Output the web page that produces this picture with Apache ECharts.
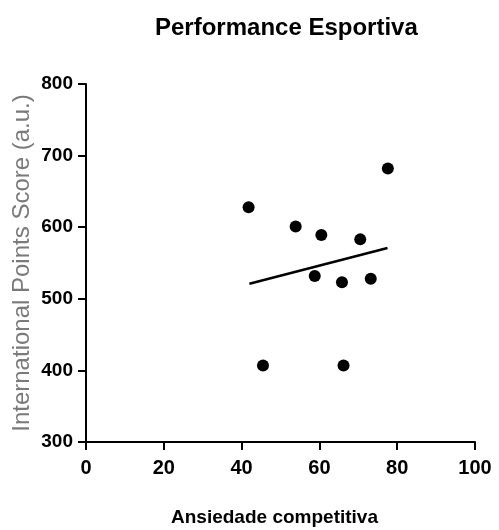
<!DOCTYPE html>
<html>
<head>
<meta charset="utf-8">
<script src="https://cdn.jsdelivr.net/npm/echarts@6/dist/echarts.min.js"></script>
<style>
  html, body { margin: 0; padding: 0; background: #fff; }
  #chart { width: 499px; height: 530px; }
</style>
</head>
<body>
<div id="chart"></div>
<script>
// dados
const anxiety = [41.8, 45.5, 53.9, 58.8, 60.5, 65.8, 66.2, 70.5, 73.2, 77.6];
const points = [628, 407, 601, 532, 589, 523, 407, 583, 528, 682];
const fitX = [42, 77.5];
const fitY = [521, 571];
const xTicks = [0, 20, 40, 60, 80, 100];
const yTicks = [300, 400, 500, 600, 700, 800];

const sans = '"Liberation Sans", Arial, sans-serif';

const chart = echarts.init(document.getElementById('chart'));

const option = {
  animation: false,
  title: {
    text: 'Performance Esportiva',
    left: 150,
    top: 11,
    textStyle: { fontFamily: sans, fontWeight: 'bold', fontSize: 24, color: '#000' }
  },
  grid: { left: 86, right: 24, top: 84, bottom: 88, outerBoundsMode: 'none', containLabel: false },
  xAxis: {
    type: 'value',
    min: xTicks[0],
    max: xTicks[xTicks.length - 1],
    interval: 20,
    name: 'Ansiedade competitiva',
    nameLocation: 'middle',
    nameGap: 66,
    nameMoveOverlap: false,
    nameTextStyle: { fontFamily: sans, fontWeight: 'bold', fontSize: 19, color: '#000', padding: [0, 12, 0, 0] },
    axisLine: { lineStyle: { color: '#000', width: 2 } },
    axisTick: { show: true, length: 8, lineStyle: { color: '#000', width: 2 } },
    axisLabel: { fontFamily: sans, fontWeight: 'bold', fontSize: 20, color: '#000', margin: 16 },
    splitLine: { show: false }
  },
  yAxis: {
    type: 'value',
    min: yTicks[0],
    max: yTicks[yTicks.length - 1],
    interval: 100,
    name: 'International Points Score (a.u.)',
    nameLocation: 'middle',
    nameGap: 52,
    nameMoveOverlap: false,
    nameTextStyle: { fontFamily: sans, fontSize: 24, color: '#7a7a7a' },
    axisLine: { show: true, lineStyle: { color: '#000', width: 2 } },
    axisTick: { show: true, length: 8, lineStyle: { color: '#000', width: 2 } },
    axisLabel: { fontFamily: sans, fontWeight: 'bold', fontSize: 19, color: '#000', margin: 13 },
    splitLine: { show: false }
  },
  series: [
    {
      type: 'scatter',
      symbol: 'circle',
      symbolSize: 12,
      itemStyle: { color: '#000', opacity: 1 },
      data: anxiety.map((x, i) => [x, points[i]])
    },
    {
      type: 'line',
      symbol: 'none',
      lineStyle: { color: '#000', width: 2.5 },
      data: fitX.map((x, i) => [x, fitY[i]])
    }
  ]
};

chart.setOption(option);
</script>
</body>
</html>
